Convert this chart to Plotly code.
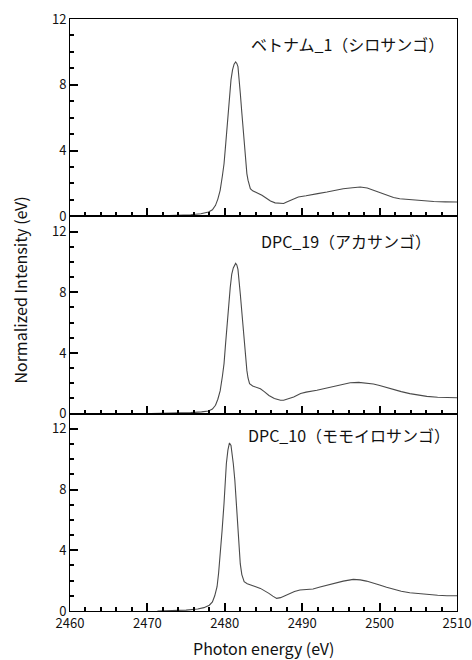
import plotly.graph_objects as go

# Sample names (one per panel, top to bottom)
sample_labels = ["ベトナム_1（シロサンゴ）", "DPC_19（アカサンゴ）", "DPC_10（モモイロサンゴ）"]

# Panel 1: ベトナム_1
energy_1 = [2470.0, 2472.0, 2474.0, 2475.6, 2476.9, 2477.9, 2478.4, 2478.8, 2479.1, 2479.4,
            2479.7, 2479.9, 2480.1, 2480.3, 2480.6, 2480.8, 2481.0, 2481.2, 2481.4, 2481.55,
            2481.7, 2481.85, 2482.0, 2482.2, 2482.4, 2482.55, 2482.7, 2482.85, 2483.0, 2483.3,
            2483.6, 2484.0, 2484.4, 2484.8, 2485.3, 2485.9, 2486.5, 2487.2, 2487.6, 2488.0,
            2488.8, 2489.5, 2490.5, 2491.0, 2492.0, 2493.2, 2494.3, 2495.3, 2496.5, 2497.5,
            2498.4, 2499.2, 2500.0, 2500.9, 2501.8, 2502.6, 2503.7, 2504.8, 2506.0, 2507.0,
            2508.5, 2510.0]
intensity_1 = [0.0, 0.02, 0.05, 0.10, 0.16, 0.26, 0.40, 0.67, 1.05, 1.58,
               2.5, 3.2, 4.3, 5.4, 7.5, 8.3, 8.9, 9.25, 9.39, 9.3,
               9.1, 8.4, 7.5, 6.3, 5.2, 4.1, 3.2, 2.6, 2.2, 1.68,
               1.55, 1.48, 1.38, 1.28, 1.1, 0.93, 0.82, 0.77, 0.78, 0.87,
               1.05, 1.18, 1.25, 1.28, 1.38, 1.48, 1.58, 1.68, 1.74, 1.78,
               1.72, 1.58, 1.45, 1.28, 1.15, 1.07, 1.02, 0.97, 0.93, 0.9,
               0.88, 0.87]

# Panel 2: DPC_19
energy_2 = [2470.4, 2473.0, 2475.6, 2477.0, 2477.9, 2478.4, 2478.8, 2479.1, 2479.4, 2479.7,
            2479.9, 2480.1, 2480.3, 2480.5, 2480.7, 2480.9, 2481.1, 2481.4, 2481.55, 2481.7,
            2481.85, 2482.0, 2482.25, 2482.5, 2482.7, 2482.85, 2483.0, 2483.2, 2483.6, 2484.0,
            2484.6, 2485.1, 2485.7, 2486.4, 2487.2, 2487.6, 2488.2, 2488.9, 2489.8, 2490.5,
            2491.9, 2493.0, 2494.1, 2495.2, 2496.2, 2497.3, 2498.3, 2499.2, 2500.0, 2500.9,
            2501.8, 2502.8, 2503.9, 2505.0, 2506.1, 2507.5, 2508.7, 2510.0]
intensity_2 = [0.0, 0.02, 0.07, 0.12, 0.18, 0.3, 0.55, 0.95, 1.5, 2.5,
               3.3, 4.6, 5.9, 7.3, 8.3, 9.2, 9.6, 9.9, 9.8, 9.5,
               8.8, 7.9, 6.4, 4.8, 3.6, 2.85, 2.35, 1.97, 1.82, 1.75,
               1.64, 1.45, 1.2, 1.0, 0.88, 0.88, 0.97, 1.1, 1.33, 1.42,
               1.54, 1.68, 1.82, 1.95, 2.04, 2.06, 2.02, 1.95, 1.86, 1.72,
               1.58, 1.45, 1.32, 1.22, 1.14, 1.08, 1.05, 1.05]

# Panel 3: DPC_10
energy_3 = [2471.3, 2473.1, 2475.0, 2476.5, 2477.3, 2478.0, 2478.4, 2478.7, 2479.0, 2479.2,
            2479.4, 2479.65, 2479.9, 2480.05, 2480.2, 2480.4, 2480.6, 2480.8, 2480.95, 2481.1,
            2481.3, 2481.5, 2481.7, 2481.85, 2482.0, 2482.2, 2482.5, 2482.9, 2483.3, 2484.0,
            2484.6, 2485.2, 2485.7, 2486.2, 2486.7, 2487.2, 2488.0, 2488.4, 2489.0, 2489.7,
            2490.5, 2491.4, 2492.3, 2493.2, 2494.3, 2495.3, 2496.6, 2497.5, 2498.3, 2499.2,
            2500.0, 2500.9, 2501.8, 2502.8, 2503.9, 2505.0, 2506.1, 2507.5, 2508.7, 2510.0]
intensity_3 = [0.0, 0.02, 0.06, 0.13, 0.22, 0.38, 0.6, 1.0, 1.6, 2.5,
               3.6, 5.3, 7.1, 8.5, 9.7, 10.6, 11.07, 10.9, 10.4, 9.7,
               8.6, 7.0, 5.3, 4.1, 3.1, 2.4, 1.93, 1.8, 1.71, 1.6,
               1.49, 1.32, 1.16, 0.98, 0.83, 0.88, 1.05, 1.16, 1.28, 1.38,
               1.42, 1.45, 1.58, 1.71, 1.85, 1.97, 2.08, 2.05, 1.97, 1.85,
               1.71, 1.57, 1.43, 1.3, 1.2, 1.14, 1.1, 1.04, 1.0, 1.0]

x_range = [2460, 2510]
y_ranges = [[0, 12], [0, 13], [0, 13]]
label_pos = [(2508.6, 10.5), (2506.9, 11.35), (2509.3, 11.6)]

font_family = "Noto Sans CJK JP, Noto Sans, sans-serif"
axis_color = "black"
line_color = "#4a4a4a"
clear = "rgba(0,0,0,0)"

# panel domains, top to bottom
domains = [[2 / 3, 1.0], [1 / 3, 2 / 3], [0.0, 1 / 3]]

series = [(energy_1, intensity_1), (energy_2, intensity_2), (energy_3, intensity_3)]
fig = go.Figure()
for i, (ex, iy) in enumerate(series, start=1):
    fig.add_trace(go.Scatter(x=ex, y=iy, xaxis=f"x{i}", yaxis=f"y{i}", mode="lines",
                             line=dict(color=line_color, width=1.1), showlegend=False))

layout = {}
for i in range(1, 4):
    layout[f"xaxis{i}"] = dict(
        domain=[0, 1], anchor=f"y{i}", range=x_range, dtick=10,
        ticks="inside", ticklen=8, tickwidth=1.5, tickcolor=axis_color,
        showline=True, linecolor=axis_color, mirror=True,
        gridcolor=clear, zerolinecolor=clear, showticklabels=(i == 3),
        minor=dict(dtick=2, ticks="inside", ticklen=4, tickcolor=axis_color),
        tickfont=dict(family=font_family, size=13, color="#111"),
    )
    layout[f"yaxis{i}"] = dict(
        domain=domains[i - 1], anchor=f"x{i}", range=y_ranges[i - 1], dtick=4,
        ticks="inside", ticklen=8, tickwidth=1.5, tickcolor=axis_color,
        showline=True, linecolor=axis_color, mirror=True,
        gridcolor=clear, zerolinecolor=clear,
        minor=dict(dtick=1, ticks="inside", ticklen=4, tickcolor=axis_color),
        tickfont=dict(family=font_family, size=13, color="#111"),
    )

annotations = []
for i, (text, (ax, ay)) in enumerate(zip(sample_labels, label_pos), start=1):
    annotations.append(dict(text=text, x=ax, y=ay, xref=f"x{i}", yref=f"y{i}", xanchor="right",
                            yanchor="middle", showarrow=False,
                            font=dict(family=font_family, size=16, color="#111")))

annotations.append(dict(text="Normalized Intensity (eV)", x=-0.128, y=0.542, xref="paper",
                        yref="paper", textangle=-90, showarrow=False, xanchor="center",
                        yanchor="middle", font=dict(family=font_family, size=16, color="#111")))
annotations.append(dict(text="Photon energy (eV)", x=0.5, y=-0.0625, xref="paper", yref="paper",
                        showarrow=False, xanchor="center", yanchor="middle",
                        font=dict(family=font_family, size=16, color="#111")))

fig.update_layout(
    template="none",
    width=472, height=660,
    margin=dict(l=70, r=15, t=19, b=49),
    annotations=annotations,
    **layout,
)

fig.write_html("out.html")
